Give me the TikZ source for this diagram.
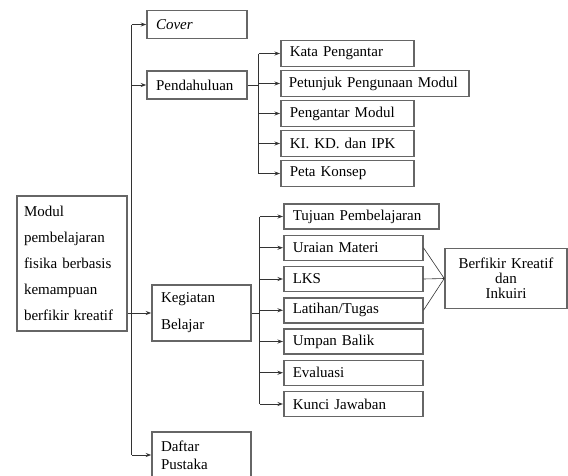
\documentclass[tikz,border=0pt]{standalone}
\usepackage{fontspec}
\setmainfont{Liberation Serif}
\usetikzlibrary{arrows.meta,calc,positioning}
\newdimen\hdim
\newdimen\kdim
\hdim=26pt
\kdim=25pt
\tikzstyle{arrow}=[
  color=black!80,
  draw=black!80,
  line width=1pt,
]
\tikzstyle{box}=[
  rectangle,
  draw=black!60,
  line width=1.5pt,
  font={\fontsize{15}{18}\selectfont},
  inner xsep=9pt,
  inner ysep=0pt,
  align=left,
]
\tikzstyle{item}=[
  box,
  minimum height=\hdim,
  text width=115pt,
]
\tikzstyle{part}=[
  box,
  minimum height=\kdim,
  text width=121pt,
]
\tikzset{
  node distance=2.5pt,
  >={Stealth[length=5.5pt,width=4pt]},
}

\begin{document}
\begin{tikzpicture}[x=1pt,y=1pt]
      \useasboundingbox (0,0) rectangle (568,-475);
      \clip (0,0) rectangle (568,-475);
      % main column
      \node [box, text width=96pt, inner xsep=7pt, minimum height=135pt,
        font={\fontsize{15}{26}\selectfont}] (MODUL) at (72,-263.5)
        {Modul\\pembelajaran\\fisika berbasis\\kemampuan\\berfikir kreatif};
      \node [box, text width=82pt, minimum height=28pt] (COVER) at (197,-24.5) {\textit{Cover}};
      \node [box, text width=82pt, minimum height=28pt] (PENDAHULUAN) at (197,-85) {Pendahuluan};
      \node [box, text width=81pt, minimum height=56pt,
        font={\fontsize{15}{27}\selectfont}] (KEGIATAN) at (201.5,-313) {Kegiatan\\Belajar};
      \node [box, text width=81pt, minimum height=46pt] (DAFTAR) at (201.5,-455) {Daftar\\Pustaka};
      % pendahuluan
      \node [item, anchor=west] (KATA) at (280,-53.5) {Kata Pengantar};
      \node [item, text width=172pt, inner xsep=8pt, below right=2.5pt and 0pt of KATA.south west] (PETUNJUK) {Petunjuk Pengunaan Modul};
      \node [item, below right=2.5pt and 0pt of PETUNJUK.south west] (PENGANTAR) {Pengantar Modul};
      \node [item, below right=2.5pt and 0pt of PENGANTAR.south west] (KIKD) {KI. KD. dan IPK};
      \node [item, below right=2.5pt and 0pt of KIKD.south west] (PETA) {Peta Konsep};
      % kegiatan belajar
      \node [part, text width=137pt, anchor=west] (TUJUAN) at (283,-216.5) {Tujuan Pembelajaran};
      \node [part, below right=4.75pt and 0pt of TUJUAN.south west] (URAIAN) {Uraian Materi};
      \node [part, below right=4.75pt and 0pt of URAIAN.south west] (LKS) {LKS};
      \node [part, below right=4.75pt and 0pt of LKS.south west] (LATIHAN) {Latihan/Tugas};
      \node [part, below right=4.75pt and 0pt of LATIHAN.south west] (UMPAN) {Umpan Balik};
      \node [part, below right=4.75pt and 0pt of UMPAN.south west] (EVALUASI) {Evaluasi};
      \node [part, below right=4.75pt and 0pt of EVALUASI.south west] (KUNCI) {Kunci Jawaban};
      \node [box, align=center, text width=104pt, minimum height=60pt,
        font={\fontsize{15}{15}\selectfont}] (BERFIKIR) at (506,-278.5) {Berfikir Kreatif\\dan\\Inkuiri};
      % connectors
      \coordinate (MAINBUS) at ($(MODUL.east)+(4,0)$);
      \coordinate (PSUB) at ($(PENDAHULUAN.east)+(11,0)$);
      \coordinate (KSUB) at ($(KEGIATAN.east)+(8,0)$);
      \draw [arrow] (MAINBUS |- COVER.west) -- (MAINBUS |- DAFTAR.west);
      \foreach \n in {COVER,PENDAHULUAN,DAFTAR}
        \draw [arrow,->] (MAINBUS |- \n.west) -- (\n.west);
      \draw [arrow,->] (MODUL.east |- KEGIATAN.west) -- (KEGIATAN.west);
      \draw [arrow] (PSUB |- KATA.west) -- (PSUB |- PETA.west);
      \draw [arrow] (PENDAHULUAN.east) -- (PSUB |- PENDAHULUAN.east);
      \foreach \n in {KATA,PETUNJUK,PENGANTAR,KIKD,PETA}
        \draw [arrow,->] (PSUB |- \n.west) -- (\n.west);
      \draw [arrow] (KSUB |- TUJUAN.west) -- (KSUB |- KUNCI.west);
      \draw [arrow] (KEGIATAN.east) -- (KSUB |- KEGIATAN.east);
      \foreach \n in {TUJUAN,URAIAN,LKS,LATIHAN,UMPAN,EVALUASI,KUNCI}
        \draw [arrow,->] (KSUB |- \n.west) -- (\n.west);
      \foreach \n in {URAIAN,LKS,LATIHAN}
        \draw [arrow, line width=0.6pt] (\n.east) -- (BERFIKIR.west);
    \end{tikzpicture}
\end{document}
